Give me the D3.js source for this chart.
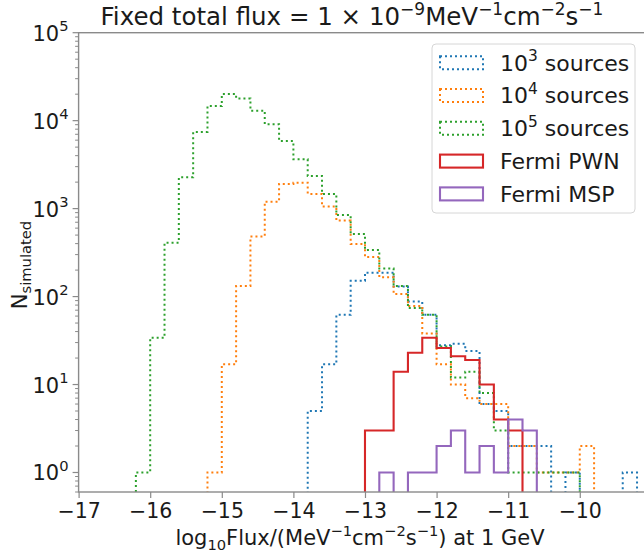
<!DOCTYPE html>
<html><head><meta charset="utf-8">
<script src="https://cdn.jsdelivr.net/npm/d3@7"></script>
<style>body{margin:0;background:#fff} svg{font-family:"DejaVu Sans",sans-serif}</style>
</head><body><svg id="c" width="644" height="552"></svg>
<script>
// bin edges of log10 flux (0.2 wide), from -16.2 to -9.0
const binEdges = [-16.2,-16.0,-15.8,-15.6,-15.4,-15.2,-15.0,-14.8,-14.6,-14.4,-14.2,-14.0,-13.8,-13.6,-13.4,-13.2,-13.0,-12.8,-12.6,-12.4,-12.2,-12.0,-11.8,-11.6,-11.4,-11.2,-11.0,-10.8,-10.6,-10.4,-10.2,-10.0,-9.8,-9.6,-9.4,-9.2,-9.0];
// counts per bin
const sim1e3 = [0,0,0,0,0,0,0,0,0,0,0,0,5,17,62,151,187,187,130,88,62,28,29,24,6,5,2,2,2,0,1,0,0,0,1,0];
const sim1e4 = [0,0,0,0,0,1,17,132,481,1200,1910,1970,1470,1054,731,397,281,166,107,78,38,17,10,7,6,6,2,2,1,1,1,2,0,0,0,0];
const sim1e5 = [1,34,410,2270,7440,14700,20100,17900,13000,9100,5870,3640,2350,1470,848,515,339,208,132,74,62,27,12,14,8,3,1,1,1,1,1,0,0,0,0,0];
const fermiPWN = [0,0,0,0,0,0,0,0,0,0,0,0,0,0,0,0,3,3,14,23,34,26,21,19,10,4,3,0,0,0,0,0,0,0,0,0];
const fermiMSP = [0,0,0,0,0,0,0,0,0,0,0,0,0,0,0,0,0,1,0,1,1,2,3,1,2,1,4,3,0,0,0,0,0,0,0,0];
const xTicks = [-17,-16,-15,-14,-13,-12,-11,-10];
const yTickExps = [0,1,2,3,4,5];
const seriesNames = [["10","3"," sources"],["10","4"," sources"],["10","5"," sources"],["Fermi PWN"],["Fermi MSP"]];
const seriesColors = ["#1f77b4","#ff7f0e","#2ca02c","#d62728","#9467bd"];
const seriesDotted = [true,true,true,false,false];
const seriesData = [sim1e3, sim1e4, sim1e5, fermiPWN, fermiMSP];

const L = 78.6, T = 32.7, R = 646, B = 492;
const svg = d3.select("#c");
const x = d3.scaleLinear().domain([-17, -9.075]).range([L, R]);
const y = d3.scaleLog().domain([0.6, 1e5]).range([B, T]);
const frameColor = "#8a8a8a";
const textColor = "#1a1a1a";

svg.append("clipPath").attr("id","clip").append("rect")
  .attr("x",L).attr("y",T).attr("width",R-L).attr("height",B-T);

const Y0 = B + 20;
function stepPts(counts){
  const pts = [[x(binEdges[0]), Y0]];
  counts.forEach((c,i)=>{
    const yy = c>0 ? y(c) : Y0;
    pts.push([x(binEdges[i]), yy],[x(binEdges[i+1]), yy]);
  });
  pts.push([x(binEdges[counts.length]), Y0]);
  return pts;
}
const line = d3.line();
const g = svg.append("g").attr("clip-path","url(#clip)");
seriesData.forEach((d,i)=>{
  g.append("path").attr("d", line(stepPts(d)))
    .attr("fill","none").attr("stroke",seriesColors[i])
    .attr("stroke-width", seriesDotted[i] ? 2 : 2.1)
    .attr("stroke-dasharray", seriesDotted[i] ? "2,3" : null);
});

// frame
svg.append("rect").attr("x",L).attr("y",T).attr("width",R-L).attr("height",B-T)
  .attr("fill","none").attr("stroke",frameColor).attr("stroke-width",1.4);

// x axis
const xa = svg.append("g").attr("transform",`translate(0,${B})`)
  .call(d3.axisBottom(x).tickValues(xTicks).tickSize(6).tickPadding(5).tickFormat(d3.format("d")));
xa.select(".domain").remove();
xa.selectAll("line").attr("stroke",frameColor).attr("stroke-width",1.2);
xa.selectAll("text").attr("font-size","20.5px").attr("fill",textColor).attr("font-family","DejaVu Sans");

// y axis
const ya = svg.append("g").attr("transform",`translate(${L},0)`);
const yMajor = yTickExps.map(e=>Math.pow(10,e));
const yMinor = [];
[-1,0,1,2,3,4].forEach(e=>{ for(let k=2;k<=9;k++){ const v=k*Math.pow(10,e); if(v>=0.6 && v<=1e5) yMinor.push(v);} });
ya.selectAll("line.minor").data(yMinor).enter().append("line")
  .attr("x1",0).attr("x2",-3.5).attr("y1",d=>y(d)).attr("y2",d=>y(d))
  .attr("stroke",frameColor).attr("stroke-width",1);
ya.selectAll("line.major").data(yMajor).enter().append("line")
  .attr("x1",0).attr("x2",-6).attr("y1",d=>y(d)).attr("y2",d=>y(d))
  .attr("stroke",frameColor).attr("stroke-width",1.2);
yTickExps.forEach(e=>{
  const t = ya.append("text").attr("x",-10).attr("y",y(Math.pow(10,e))+8)
    .attr("text-anchor","end").attr("font-size","21px").attr("fill",textColor);
  t.append("tspan").text("10");
  t.append("tspan").attr("font-size","14.7px").attr("dy","-9.5").text(String(e));
});

// title
const title = svg.append("text").attr("x",352).attr("y",25).attr("text-anchor","middle")
  .attr("font-size","24.5px").attr("fill",textColor);
[["Fixed total flux = 1 × 10",0],["−9",1],["MeV",0],["−1",1],["cm",0],["−2",1],["s",0],["−1",1]].forEach(([s,sup],i,arr)=>{
  const prev = i>0 ? arr[i-1][1] : 0;
  const dy = sup && !prev ? -10.5 : (!sup && prev ? 10.5 : 0);
  title.append("tspan").attr("font-size", sup ? "17px" : null).attr("dy",dy).text(s);
});

// x label
const xl = svg.append("text").attr("x",360).attr("y",545).attr("text-anchor","middle")
  .attr("font-size","21px").attr("fill",textColor);
[["log",0],["10",-1],["Flux/(MeV",0],["−1",1],["cm",0],["−2",1],["s",0],["−1",1],[") at 1 GeV",0]].forEach(([s,k],i,arr)=>{
  const prev = i>0 ? arr[i-1][1] : 0;
  const off = v => v===1 ? -9 : (v===-1 ? 5 : 0);
  xl.append("tspan").attr("font-size", k ? "14.7px" : null).attr("dy", off(k)-off(prev)).text(s);
});

// y label
const yl = svg.append("text").attr("transform","translate(27,265) rotate(-90)")
  .attr("text-anchor","middle").attr("font-size","21px").attr("fill",textColor);
yl.append("tspan").text("N");
yl.append("tspan").attr("font-size","14.7px").attr("dy",4).text("simulated");

// legend
const lg = svg.append("g");
lg.append("rect").attr("x",432).attr("y",44).attr("width",203).attr("height",169).attr("rx",4)
  .attr("fill","#fff").attr("fill-opacity",0.8).attr("stroke","#d6d6d6").attr("stroke-width",1);
const rowY = [62.7, 95.5, 128.3, 161.1, 193.9];
seriesNames.forEach((nm,i)=>{
  lg.append("rect").attr("x",440).attr("y",rowY[i]-6.5).attr("width",43).attr("height",13)
    .attr("fill","none").attr("stroke",seriesColors[i])
    .attr("stroke-width", seriesDotted[i] ? 2 : 2.1)
    .attr("stroke-dasharray", seriesDotted[i] ? "2,3" : null);
  const t = lg.append("text").attr("x",500).attr("y",rowY[i]+7.8).attr("font-size","22px").attr("fill",textColor);
  if(nm.length===3){
    t.append("tspan").text(nm[0]);
    t.append("tspan").attr("font-size","15.4px").attr("dy",-9.5).text(nm[1]);
    t.append("tspan").attr("dy",9.5).text(nm[2]);
  } else t.text(nm[0]);
});
</script></body></html>
